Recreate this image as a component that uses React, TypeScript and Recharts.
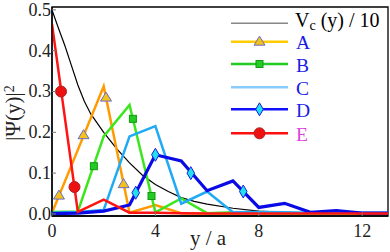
import React from 'react';
import { ComposedChart, Line, XAxis, YAxis, ReferenceArea, Label } from 'recharts';

const xGrid = [0, 1, 2, 3, 4, 5, 6, 7, 8, 9, 10, 11, 12, 13];
const seriesA = [0.003, 0.157, 0.313, 0.003, 0.022, 0.002, 0.001, 0.001, 0.001, 0.001, 0.001, 0.001, 0.001, 0.001];
const seriesB = [0.005, 0.006, 0.19, 0.267, 0.004, 0.038, 0.002, 0.004, 0.003, 0.002, 0.002, 0.002, 0.002, 0.002];
const seriesC = [0.003, 0.005, 0.01, 0.19, 0.215, 0.025, 0.055, 0.004, 0.005, 0.004, 0.003, 0.003, 0.003, 0.003];
const seriesD = [0.001, 0.002, 0.007, 0.022, 0.145, 0.13, 0.057, 0.081, 0.016, 0.026, 0.004, 0.008, 0.002, 0.002];
const seriesE = [0.465, 0.005, 0.035, 0.003, 0.003, 0.002, 0.001, 0.001, 0.001, 0.001, 0.001, 0.001, 0.001, 0.001];

const vcX = [0, 0.25, 0.5, 0.75, 1, 1.25, 1.5, 2, 2.5, 3, 3.5, 4, 4.5, 5, 5.5, 6, 7, 8, 9, 10, 11, 12, 13];
const vcY = [0.5, 0.455, 0.412, 0.364, 0.316, 0.276, 0.245, 0.2, 0.16, 0.125, 0.095, 0.072, 0.055, 0.04, 0.031, 0.024, 0.014, 0.007, 0.004, 0.003, 0.002, 0.001, 0.001];

const markA_x = [0.27, 1.22, 2.09, 2.77];
const markA_y = [0.045, 0.193, 0.285, 0.073];
const markB_x = [1.62, 3.13, 3.85];
const markB_y = [0.117, 0.233, 0.044];
const markD_x = [3.24, 4.0, 5.37, 7.4];
const markD_y = [0.052, 0.145, 0.1, 0.055];
const markE_x = [0.35, 0.87];
const markE_y = [0.3, 0.066];

const xTicks = [0, 4, 8, 12];
const yTicks = [0, 0.1, 0.2, 0.3, 0.4, 0.5];
const legendNames = ['A', 'B', 'C', 'D', 'E'];

const X_DOMAIN: [number, number] = [0, 13];
const Y_DOMAIN: [number, number] = [-0.005, 0.507];

const FONT = '"Liberation Serif", "DejaVu Serif", serif';

const pts = (xs: number[], ys: number[]) => xs.map((x, i) => ({ x, v: ys[i] }));

const C_A = '#ff9a00';
const C_B = '#3ce61e';
const C_C = '#1eaaf5';
const C_D = '#0a0ae6';
const C_E = '#ff1414';

const Tri = ({ cx, cy }: any) => (
  <polygon
    points={`${cx},${cy - 5.5} ${cx + 5.5},${cy + 3.5} ${cx - 5.5},${cy + 3.5}`}
    fill="#f2c21a"
    stroke="#6a6ad0"
    strokeWidth={1}
  />
);
const Sq = ({ cx, cy }: any) => (
  <rect x={cx - 3.5} y={cy - 3.5} width={7} height={7} fill="#22cc22" stroke="#119911" strokeWidth={1} />
);
const Dia = ({ cx, cy }: any) => (
  <polygon
    points={`${cx},${cy - 6.5} ${cx + 3.8},${cy} ${cx},${cy + 6.5} ${cx - 3.8},${cy}`}
    fill="#22e0f0"
    stroke="#1a1add"
    strokeWidth={1}
  />
);
const Circ = ({ cx, cy }: any) => <circle cx={cx} cy={cy} r={5.5} fill="#ee1111" stroke="#aa2222" strokeWidth={1} />;

const dotOf = (Comp: any) => (p: any) => <Comp key={`m${p.index}`} cx={p.cx} cy={p.cy} />;

const XTick = ({ x, y, payload }: any) => (
  <g>
    <line x1={x} x2={x} y1={y} y2={y - 4} stroke="#777" strokeWidth={1} />
    <text x={x} y={y + 21} textAnchor="middle" fontFamily={FONT} fontSize={18} fill="#222">
      {payload.value}
    </text>
  </g>
);

const YTick = ({ x, y, payload }: any) => (
  <g>
    <line x1={x} x2={x + 4} y1={y} y2={y} stroke="#777" strokeWidth={1} />
    <text x={x - 1} y={y + 6} textAnchor="end" fontFamily={FONT} fontSize={18} fill="#222">
      {Number(payload.value).toFixed(1)}
    </text>
  </g>
);

const legendRows = [23.3, 41.7, 64, 87.3, 109.3, 133.3];
const legendBase = [27, 49, 71.5, 94.5, 116.5, 140.5];

const LegendOverlay = () => {
  const x1 = 231;
  const x2 = 288;
  const mx = 259.5;
  const lineCols = ['#888888', '#ffcc00', '#22cc22', '#88ccff', '#1010ff', '#ff1010'];
  const markers = [null, Tri, Sq, null, Dia, Circ];
  return (
    <svg width={390} height={252} style={{ position: 'absolute', left: 0, top: 0, pointerEvents: 'none' }}>
      {legendRows.map((ry, i) => {
        const M: any = markers[i];
        return (
          <g key={i}>
            <line x1={x1} x2={x2} y1={ry} y2={ry} stroke={lineCols[i]} strokeWidth={i === 0 ? 1.5 : 2.5} />
            {M ? <M cx={mx} cy={ry} /> : null}
          </g>
        );
      })}
      <text x={295} y={legendBase[0]} fontFamily={FONT} fontSize={20} fill="#000">
        V<tspan fontSize={14} dy={3}>c</tspan>
        <tspan dy={-3}> (y) / 10</tspan>
      </text>
      {legendNames.map((n, i) => (
        <text
          key={n}
          x={296}
          y={legendBase[i + 1]}
          fontFamily={FONT}
          fontSize={19.5}
          fill={n === 'E' ? '#dd44dd' : '#1a1ae6'}
        >
          {n}
        </text>
      ))}
    </svg>
  );
};

export default function App() {
  return (
    <div style={{ position: 'absolute', left: 0, top: 0, width: 390, height: 252, background: '#fff' }}>
      <ComposedChart width={390} height={252} margin={{ top: 7, right: 2, left: 0, bottom: 0 }}>
        <XAxis
          type="number"
          dataKey="x"
          domain={X_DOMAIN}
          ticks={xTicks}
          allowDataOverflow
          height={36}
          tickSize={0}
          tickMargin={0}
          tickLine={false}
          axisLine={{ stroke: '#000', strokeWidth: 1.3 }}
          tick={<XTick />}
        >
          <Label
            content={() => (
              <text x={208} y={245} textAnchor="middle" fontFamily={FONT} fontSize={21} fill="#222">
                y / a
              </text>
            )}
          />
        </XAxis>
        <YAxis
          type="number"
          domain={Y_DOMAIN}
          ticks={yTicks}
          allowDataOverflow
          width={52}
          tickSize={0}
          tickMargin={0}
          tickLine={false}
          axisLine={{ stroke: '#000', strokeWidth: 1.3 }}
          tick={<YTick />}
        >
          <Label
            content={() => (
              <text
                x={20}
                y={113}
                transform="rotate(-90 20 113)"
                textAnchor="middle"
                fontFamily={FONT}
                fontSize={21}
                fill="#222"
              >
                |Ψ(y)|<tspan fontSize={14} dy={-6}>2</tspan>
              </text>
            )}
          />
        </YAxis>
        <Line data={pts(vcX, vcY)} dataKey="v" type="linear" stroke="#000" strokeWidth={1.2} dot={false} activeDot={false} isAnimationActive={false} />
        <Line data={pts(xGrid, seriesA)} dataKey="v" type="linear" stroke={C_A} strokeWidth={2.5} dot={false} activeDot={false} isAnimationActive={false} />
        <Line data={pts(xGrid, seriesB)} dataKey="v" type="linear" stroke={C_B} strokeWidth={2.5} dot={false} activeDot={false} isAnimationActive={false} />
        <Line data={pts(xGrid, seriesC)} dataKey="v" type="linear" stroke={C_C} strokeWidth={2.5} dot={false} activeDot={false} isAnimationActive={false} />
        <Line data={pts(xGrid, seriesD)} dataKey="v" type="linear" stroke={C_D} strokeWidth={3.2} dot={false} activeDot={false} isAnimationActive={false} />
        <Line data={pts(xGrid, seriesE)} dataKey="v" type="linear" stroke={C_E} strokeWidth={2.5} dot={false} activeDot={false} isAnimationActive={false} />
        <Line data={pts(markA_x, markA_y)} dataKey="v" stroke="none" dot={dotOf(Tri)} activeDot={false} isAnimationActive={false} />
        <Line data={pts(markB_x, markB_y)} dataKey="v" stroke="none" dot={dotOf(Sq)} activeDot={false} isAnimationActive={false} />
        <Line data={pts(markD_x, markD_y)} dataKey="v" stroke="none" dot={dotOf(Dia)} activeDot={false} isAnimationActive={false} />
        <Line data={pts(markE_x, markE_y)} dataKey="v" stroke="none" dot={dotOf(Circ)} activeDot={false} isAnimationActive={false} />
        <ReferenceArea x1={0} x2={13} y1={Y_DOMAIN[0]} y2={Y_DOMAIN[1]} fill="none" stroke="#000" strokeWidth={1.3} fillOpacity={0} />
      </ComposedChart>
      <LegendOverlay />
    </div>
  );
}
